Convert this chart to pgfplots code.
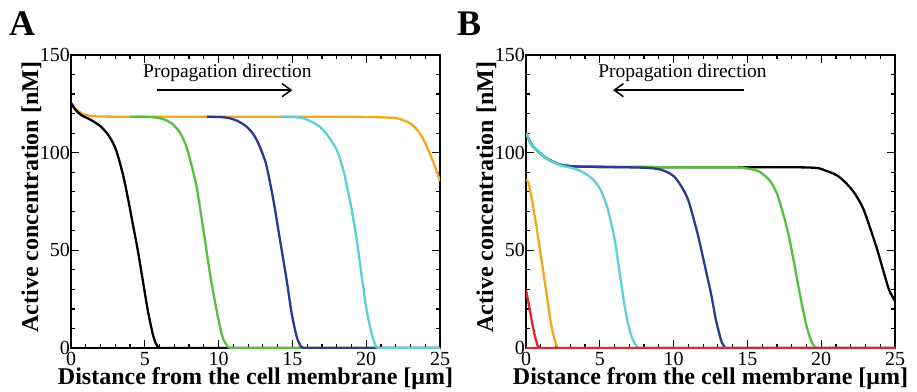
\documentclass[border=0pt]{standalone}
\usepackage{fontspec}
\setmainfont{Liberation Serif}
\usepackage{pgfplots}
\pgfplotsset{compat=1.18}
\usetikzlibrary{arrows.meta}
\definecolor{cgreen}{RGB}{82,194,58}
\definecolor{cblue}{RGB}{43,56,150}
\definecolor{ccyan}{RGB}{92,207,216}
\definecolor{corange}{RGB}{242,167,28}
\definecolor{cred}{RGB}{227,35,47}
\pgfplotsset{
  panel/.style={
    scale only axis, width=369pt, height=293pt,
    anchor=south west,
    xmin=0, xmax=25, ymin=0, ymax=150,
    xtick={0,5,...,25}, ytick={0,50,100,150},
    minor x tick num=4, minor y tick num=4,
    tick align=inside,
    major tick length=8pt, minor tick length=4pt,
    every tick/.style={black, line width=1.2pt},
    axis line style={line width=1.8pt},
    /pgf/number format/assume math mode=true,
    ticklabel style={font=\fontsize{20}{20}\selectfont, inner sep=1pt},
    xticklabel style={yshift=-3pt},
    yticklabel style={xshift=0pt},
    xlabel={\textbf{Distance from the cell membrane [μm]}},
    ylabel={\textbf{Active concentration [nM]}},
    label style={font=\fontsize{24}{24}\selectfont},
    x label style={at={(axis description cs:0.5,-0.125)}, anchor=base},
    y label style={at={(axis description cs:-0.0894,0.515)}, anchor=base, rotate=0},
    every axis plot/.append style={line width=2.3pt, no markers, smooth, tension=0.5},
    clip=true,
  }
}
\begin{document}
\begin{tikzpicture}
\useasboundingbox (0,0) rectangle (917pt,391pt);
\node[anchor=base west, font=\fontsize{36}{36}\selectfont\bfseries, inner sep=0pt] at (9pt,355.5pt) {A};
\node[anchor=base west, font=\fontsize{36}{36}\selectfont\bfseries, inner sep=0pt] at (457pt,355.5pt) {B};
% Panel A
\begin{axis}[panel, at={(71pt,43pt)}]
\addplot[corange] coordinates {(0,125.5) (0.3,122.5) (0.7,120.2) (1.2,119) (2,118.5) (5,118.4) (10,118.4) (15,118.4) (20,118.3) (21.3,118) (22.07,117.6) (22.97,115) (23.64,109.9) (24.21,101.4) (24.66,92.8) (25,85.5)};
\addplot[black] coordinates {(0,125.5) (0.3,122) (0.68,119.3) (1.36,116.7) (2.03,113.3) (2.6,108.2) (3.05,101.4) (3.5,89.4) (3.84,77.4) (4.18,63.8) (4.52,50.2) (4.86,34.8) (5.2,19.4) (5.53,7.5) (5.75,2.2) (5.95,0.3) (6.15,0) (8,0) (25,0)};
\addplot[cgreen] coordinates {(4,118.4) (5.5,118.2) (6.3,117) (6.9,114.5) (7.4,110) (7.8,103.5) (8.15,94) (8.52,82) (8.96,61) (9.42,38) (9.87,19) (10.25,6) (10.55,1.5) (10.8,0) (12,0) (25,0)};
\addplot[cblue] coordinates {(9.2,118.4) (10.2,118.2) (10.77,117.6) (11.4,115.8) (11.9,113.3) (12.35,109.5) (12.69,104.8) (13.0,99) (13.26,92.8) (13.71,75.8) (14.16,55.3) (14.61,34.8) (14.95,17.7) (15.29,5.8) (15.5,2) (15.74,0) (17,0) (25,0)};
\addplot[ccyan] coordinates {(14.3,118.4) (15.2,118.2) (15.74,117.6) (16.5,115) (17.1,111.6) (17.6,106.5) (18.0,101.4) (18.3,95) (18.56,87.7) (19.02,70.6) (19.36,55.3) (19.7,36.5) (20.03,19.4) (20.37,7.5) (20.6,2) (20.82,0) (22,0) (25,0)};
\node[font=\fontsize{19.5}{19.5}\selectfont] at (axis cs:10.6,140.8) {Propagation direction};
\draw[line width=1.5pt, -{Straight Barb[length=9pt,width=13pt,line width=1.5pt]}] (axis cs:5.8,132) -- (axis cs:15,132);
\end{axis}
% Panel B
\begin{axis}[panel, at={(526pt,43pt)}]
\addplot[black] coordinates {(0,110) (0.35,104.5) (0.71,101.4) (1.39,97.1) (2.29,93.9) (3,93.1) (4,92.8) (8,92.6) (14,92.5) (19.2,92.4) (20.3,90.8) (21.2,87.7) (22.1,80.9) (22.79,72.3) (23.36,60.4) (23.8,50.2) (24.26,38.2) (24.6,29.7) (25,24)};
\addplot[cgreen] coordinates {(0,110) (0.35,104.5) (0.71,101.4) (1.39,97.1) (2.29,93.9) (3,93.1) (4,92.8) (8,92.6) (14,92.5) (14.9,92) (15.8,90.3) (16.48,86) (16.85,81.5) (17.15,75.8) (17.71,60.4) (18.17,43.3) (18.5,29.7) (18.96,12.6) (19.3,4.1) (19.5,1.2) (19.74,0) (21,0) (25,0)};
\addplot[cblue] coordinates {(0,110) (0.35,104.5) (0.71,101.4) (1.39,97.1) (2.29,93.9) (3,93.1) (4,92.8) (6,92.6) (8,92.3) (9.03,91.5) (9.71,89.5) (10.1,87.3) (10.39,84.3) (10.75,79.8) (11.06,74.1) (11.62,58.7) (12.08,43.3) (12.53,28) (12.87,14.3) (13.21,4.1) (13.4,1.2) (13.6,0) (15,0) (25,0)};
\addplot[ccyan] coordinates {(0,110) (0.35,104.5) (0.71,101.4) (1.39,97.1) (2.29,93.7) (2.9,92.5) (3.42,91.5) (3.9,89.8) (4.32,87.7) (4.7,85) (5.0,81.7) (5.3,76.5) (5.56,70.6) (6.01,55.3) (6.35,38.2) (6.69,21.1) (7.02,9.2) (7.25,4) (7.48,1.2) (7.7,0) (9,0) (25,0)};
\addplot[corange] coordinates {(0,86) (0.15,85) (0.37,77.4) (0.71,62) (1.05,45) (1.39,28) (1.73,11) (2.06,1.5) (2.3,0) (4,0) (25,0)};
\addplot[cred] coordinates {(0,29.7) (0.26,19.4) (0.49,10) (0.71,3.2) (0.94,0) (2,0) (25,0)};
\node[font=\fontsize{19.5}{19.5}\selectfont] at (axis cs:10.6,140.8) {Propagation direction};
\draw[line width=1.5pt, -{Straight Barb[length=9pt,width=13pt,line width=1.5pt]}] (axis cs:14.8,132) -- (axis cs:5.9,132);
\end{axis}
\end{tikzpicture}
\end{document}
